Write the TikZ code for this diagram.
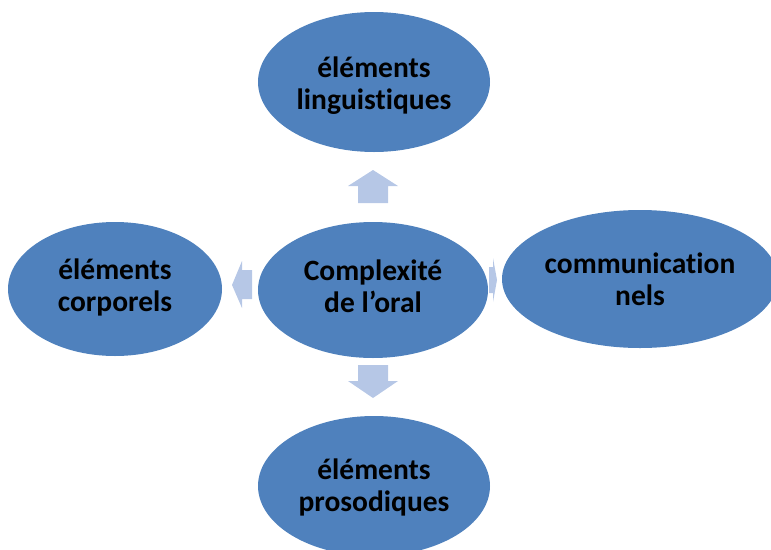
\documentclass[tikz,border=0pt]{standalone}
\usepackage{fontspec}
\setmainfont[Ligatures=NoCommon]{Carlito}
\usetikzlibrary{shapes.geometric}
\definecolor{bubble}{RGB}{79,129,189}
\definecolor{blockarrow}{RGB}{182,199,230}
\tikzset{
  bubble/.style={ellipse, fill=bubble, draw=none, inner sep=0pt},
  caption/.style={inner sep=0pt, align=center,
    font=\fontsize{29.5}{32}\selectfont\bfseries, text=black},
  blockarrow/.style={fill=blockarrow, draw=none}
}
\begin{document}
\begin{tikzpicture}[x=1pt,y=-1pt]
  \useasboundingbox (0,0) rectangle (771,549);
  % five ovals
  \node[bubble, minimum width=232pt, minimum height=140pt] (ling) at (374,82) {};
  \node[bubble, minimum width=230pt, minimum height=136pt] (core) at (373,290) {};
  \node[bubble, minimum width=214pt, minimum height=134pt] (corp) at (115,289) {};
  \node[bubble, minimum width=276pt, minimum height=138pt] (comm) at (640,279) {};
  \node[bubble, minimum width=232pt, minimum height=140pt] (pros) at (374,486) {};
  % their labels
  \node[caption] (lingtext) at ([yshift=-4pt]ling.center) {éléments\\linguistiques};
  \node[caption] (coretext) at ([yshift=4pt]core.center) {Complexité\\de l’oral};
  \node[caption] (corptext) at ([yshift=2pt]corp.center) {éléments\\corporels};
  \node[caption] (commtext) at (comm.center) {communication\\nels};
  \node[caption] (prostext) at ([yshift=-1pt]pros.center) {éléments\\prosodiques};
  % block arrows around the central oval
  \fill[blockarrow] (358,203) -- (358,186) -- (348,186) -- (373,170) -- (398,186) -- (388,186) -- (388,203) -- cycle;
  \fill[blockarrow] (358,365) -- (358,381) -- (348,381) -- (373,398) -- (398,381) -- (388,381) -- (388,365) -- cycle;
  \fill[blockarrow] (252,270) -- (242,270) -- (242,261) -- (232,285) -- (242,308) -- (242,299) -- (252,299) -- cycle;
  \fill[blockarrow] (489,267) -- (493,267) -- (493,258) -- (497,280) -- (493,302) -- (493,293) -- (489,293) -- cycle;
\end{tikzpicture}
\end{document}
